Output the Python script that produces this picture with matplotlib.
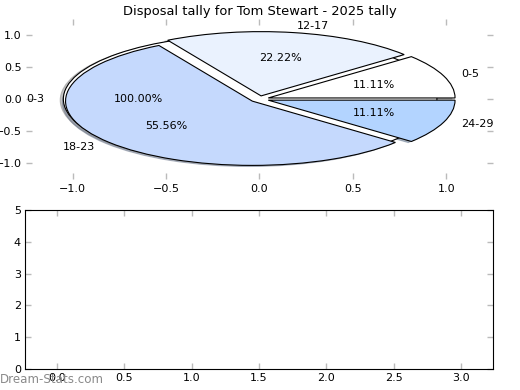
import matplotlib
matplotlib.use("Agg")
import matplotlib.pyplot as plt

# dane
title = "Disposal tally for Tom Stewart - 2025 tally"
full_label = ["0-3"]
full_value = [1]
labels = ["0-5", "12-17", "18-23", "24-29"]
values = [1, 2, 5, 1]
colors = ["#ffffff", "#eaf2fe", "#c5d9fd", "#b3d4ff"]

pie_xticks = [-1.0, -0.5, 0.0, 0.5, 1.0]
pie_yticks = [-1.0, -0.5, 0.0, 0.5, 1.0]
bar_xticks = [0.0, 0.5, 1.0, 1.5, 2.0, 2.5, 3.0]
bar_yticks = [0, 1, 2, 3, 4, 5]

plt.rcParams["font.size"] = 8

fig = plt.figure(figsize=(5.2, 3.9), dpi=100)
ax1 = fig.add_axes([0.05, 0.54, 0.898, 0.412])
ax2 = fig.add_axes([0.048, 0.054, 0.9, 0.407])

wp = {"edgecolor": "black", "linewidth": 0.8}
sh = {"ox": -0.012, "oy": -0.012, "shade": 0.45}

# pelne kolo pod spodem (0-3)
ax1.pie(full_value, labels=full_label, explode=[0.05], autopct="%.2f%%",
        shadow=sh, colors=["white"], wedgeprops=wp)
# wlasciwe wycinki
ax1.pie(values, labels=labels, explode=[0.05] * len(values), autopct="%.2f%%",
        shadow=sh, colors=colors, wedgeprops=wp)

ax1.set_aspect("auto")
ax1.set_frame_on(False)
ax1.set_xlim(-1.25, 1.25)
ax1.set_ylim(-1.25, 1.25)
ax1.set_xticks(pie_xticks)
ax1.set_yticks(pie_yticks)
ax1.set_title(title, fontsize=9.4, pad=3)

# dolny wykres - pusty
ax2.set_xlim(-0.235, 3.235)
ax2.set_ylim(0, 5)
ax2.set_xticks(bar_xticks)
ax2.set_yticks(bar_yticks)

for ax in (ax1, ax2):
    ax.tick_params(direction="in", length=4, width=1, color="#bbbbbb",
                   top=True, right=True, labelsize=8, pad=3)

fig.text(0.0, 0.018, "Dream-Stats.com", color="#8a8a8a", fontsize=8.6)

fig.savefig("out.png", dpi=100)
